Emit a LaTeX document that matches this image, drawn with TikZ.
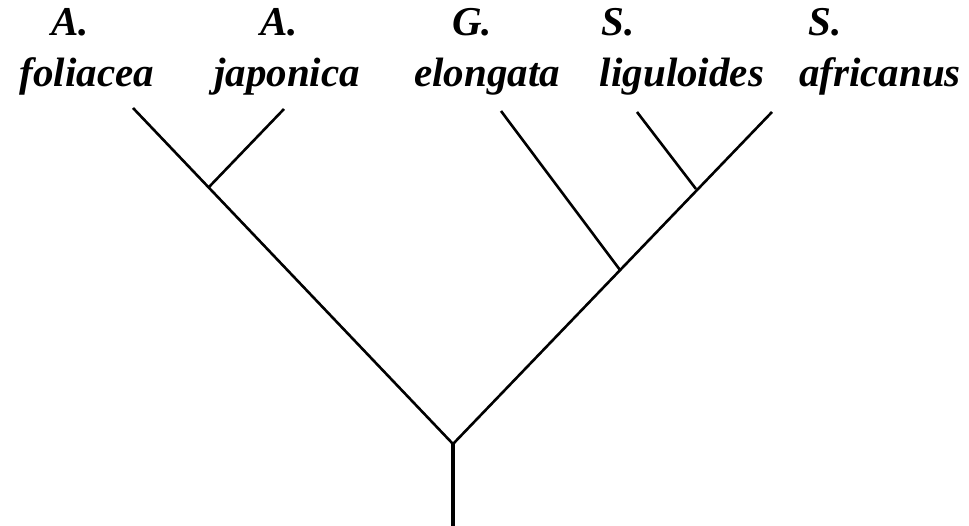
\documentclass[tikz,border=0pt]{standalone}
\usepackage{fontspec}
\setmainfont{Liberation Serif}
\newcommand\taxlbl[1]{{\bfseries\itshape #1}}
\begin{document}
\begin{tikzpicture}[x=1pt,y=-1pt,
  lab/.style={anchor=base, inner sep=0pt, font=\fontsize{41}{41}\selectfont},
  br/.style={line width=2.6pt, line join=round},
  rootbr/.style={line width=4.5pt}]
\useasboundingbox (0,0) rectangle (969,526);
% labels
\node[lab] (g1) at (70,36) {\taxlbl{A.}};
\node[lab] (s1) at (87,87) {\taxlbl{foliacea}};
\node[lab] (g2) at (279,36) {\taxlbl{A.}};
\node[lab] (s2) at (287,87) {\taxlbl{japonica}};
\node[lab] (g3) at (472,36) {\taxlbl{G.}};
\node[lab] (s3) at (487,87) {\taxlbl{elongata}};
\node[lab] (g4) at (618,36) {\taxlbl{S.}};
\node[lab] (s4) at (682,87) {\taxlbl{liguloides}};
\node[lab] (g5) at (825,36) {\taxlbl{S.}};
\node[lab] (s5) at (880,87) {\taxlbl{africanus}};
% tree
\coordinate (t1) at (133,108);
\coordinate (t2) at (284,109);
\coordinate (t3) at (501,111);
\coordinate (t4) at (637,112);
\coordinate (t5) at (772,112);
\coordinate (n1) at (209,187);
\coordinate (n2) at (696,189);
\coordinate (n3) at (620,270);
\coordinate (r) at (453,444);
\coordinate (rb) at (453,526);
\draw[br] (t1) -- (r) -- (t5);
\draw[br] (n1) -- (t2);
\draw[br] (n3) -- (t3);
\draw[br] (n2) -- (t4);
\draw[rootbr] (r) -- (rb);
\end{tikzpicture}
\end{document}
